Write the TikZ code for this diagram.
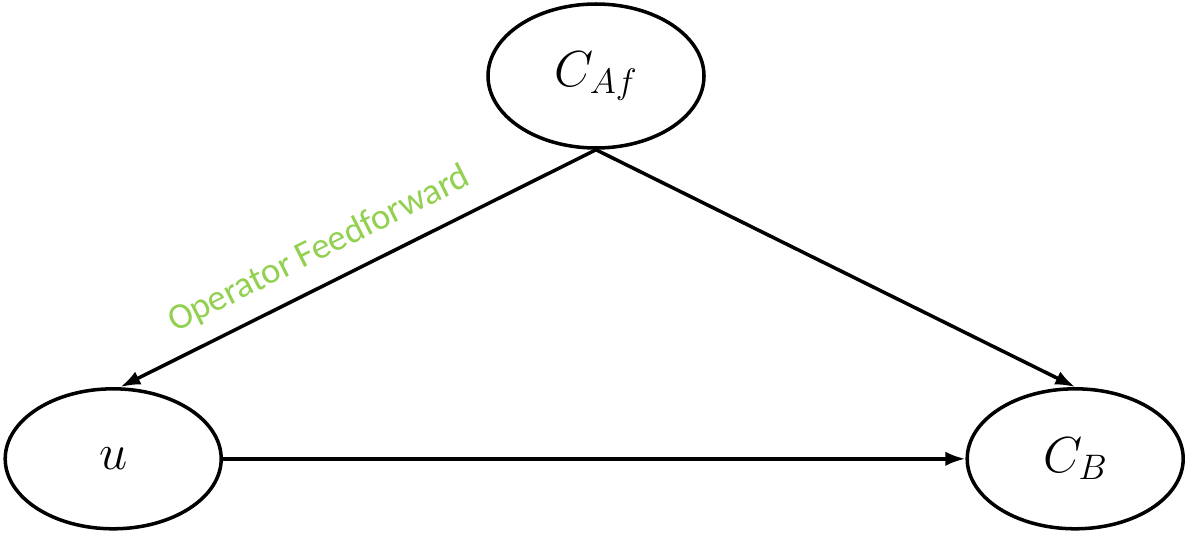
\RequirePackage{fix-cm}
\documentclass[tikz,border=0pt]{standalone}
\usepackage{fontspec}
\setmainfont{Carlito}
\usetikzlibrary{arrows.meta,shapes.geometric}

\definecolor{opgreen}{RGB}{146,208,80}

\begin{document}
\begin{tikzpicture}[
    >={Latex[length=0.5cm,width=0.36cm]},
    var/.style={
        draw,
        ellipse,
        line width=2.5pt,
        inner sep=0pt,
        minimum width=5.4cm,
        minimum height=3.5cm,
        font=\fontsize{36}{42}\selectfont
    },
    line/.style={->, line width=2.5pt}
]
\useasboundingbox (0,0) rectangle (29.8,13.35);

% Nodes
\node[var, minimum height=3.6cm] (caf) at (14.9,11.45) {$C_{Af}$};
\node[var] (u) at (2.83,1.88) {$u$};
\node[var] (cb) at (26.88,1.88) {$C_B$};

% Arrows
\draw[line] (caf.south) -- ([xshift=0.18cm]u.north)
    node[pos=0.55, sloped, above=0.3cm, text=opgreen,
         font=\fontsize{26}{31}\selectfont] {Operator Feedforward};
\draw[line] (caf.south) -- (cb.north);
\draw[line] (u) -- (cb);

\end{tikzpicture}
\end{document}
